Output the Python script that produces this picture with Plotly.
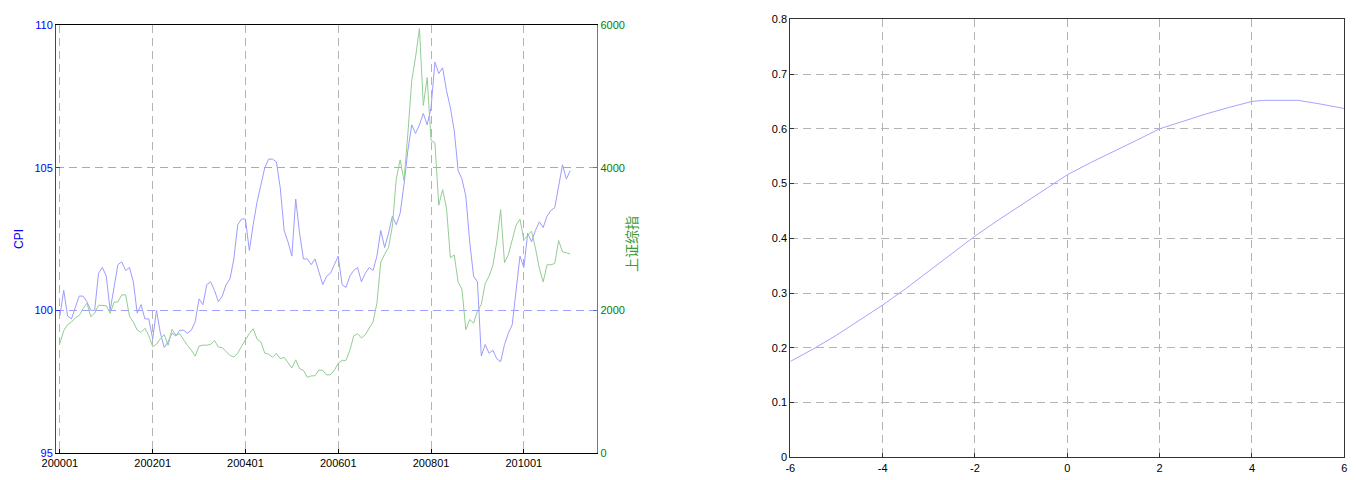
import plotly.graph_objects as go

# ---------------- data ----------------
start_year, start_month = 2000, 1
cpi = [
    99.8, 100.7, 99.8, 99.7, 100.1, 100.5, 100.5, 100.3, 100.0, 100.0, 101.3, 101.5,
    101.2, 100.0, 100.8, 101.6, 101.7, 101.4, 101.5, 101.0, 99.9, 100.2, 99.7, 99.7,
    99.0, 100.0, 99.2, 98.7, 98.9, 99.2, 99.1, 99.3, 99.3, 99.2, 99.3, 99.6,
    100.4, 100.2, 100.9, 101.0, 100.7, 100.3, 100.5, 100.9, 101.1, 101.8, 103.0, 103.2,
    103.2, 102.1, 103.0, 103.8, 104.4, 105.0, 105.3, 105.3, 105.2, 104.3, 102.8, 102.4,
    101.9, 103.9, 102.7, 101.8, 101.8, 101.6, 101.8, 101.3, 100.9, 101.2, 101.3, 101.6,
    101.9, 100.9, 100.8, 101.2, 101.4, 101.5, 101.0, 101.3, 101.5, 101.4, 101.9, 102.8,
    102.2, 102.7, 103.3, 103.0, 103.4, 104.4, 105.6, 106.5, 106.2, 106.5, 106.9, 106.5,
    107.1, 108.7, 108.3, 108.5, 107.7, 107.1, 106.3, 104.9, 104.6, 104.0, 102.4, 101.2,
    101.0, 98.4, 98.8, 98.5, 98.6, 98.3, 98.2, 98.8, 99.2, 99.5, 100.6, 101.9,
    101.5, 102.7, 102.4, 102.8, 103.1, 102.9, 103.3, 103.5, 103.6, 104.4, 105.1, 104.6,
    104.9,
]
sh_index = [
    1535, 1715, 1800, 1836, 1895, 1928, 2023, 2101, 1910, 1961, 2071, 2073,
    2066, 1959, 2113, 2119, 2214, 2218, 1920, 1834, 1724, 1690, 1748, 1646,
    1491, 1525, 1604, 1659, 1511, 1733, 1652, 1671, 1581, 1507, 1442, 1358,
    1500, 1512, 1511, 1522, 1576, 1486, 1477, 1422, 1367, 1348, 1397, 1497,
    1591, 1675, 1742, 1596, 1556, 1399, 1386, 1342, 1397, 1321, 1341, 1267,
    1192, 1306, 1181, 1159, 1061, 1081, 1083, 1163, 1156, 1093, 1099, 1161,
    1258, 1299, 1298, 1440, 1641, 1672, 1613, 1659, 1752, 1838, 2099, 2675,
    2786, 2881, 3184, 3841, 4110, 3821, 4471, 5219, 5552, 5955, 4872, 5262,
    4383, 4349, 3473, 3693, 3433, 2736, 2776, 2397, 2294, 1729, 1871, 1821,
    1991, 2083, 2373, 2478, 2633, 2959, 3412, 2668, 2779, 2996, 3195, 3277,
    2989, 3052, 3109, 2871, 2592, 2398, 2638, 2639, 2656, 2979, 2820, 2808,
    2791,
]
months = []
for k in range(len(cpi)):
    y = start_year + (start_month - 1 + k) // 12
    m = (start_month - 1 + k) % 12 + 1
    months.append(f"{y}{m:02d}")
tick_every = 24

curve_x = [-6, -5.5, -5, -4.5, -4, -3.5, -3, -2.5, -2, -1.5, -1, -0.5, 0,
           0.5, 1, 1.5, 2, 2.5, 3, 3.5, 4, 4.25, 5, 5.5, 6]
curve_y = [0.175, 0.198, 0.223, 0.250, 0.278, 0.308, 0.340, 0.372, 0.404, 0.433,
           0.461, 0.489, 0.516, 0.538, 0.558, 0.579, 0.600, 0.614, 0.627, 0.639,
           0.650, 0.652, 0.652, 0.645, 0.637]
right_xticks = [-6, -4, -2, 0, 2, 4, 6]
right_yticks = [0, 0.1, 0.2, 0.3, 0.4, 0.5, 0.6, 0.7, 0.8]

# ---------------- figure ----------------
xs = list(range(1, len(cpi) + 1))
tickpos = xs[::tick_every]
ticklab = months[::tick_every]

FONT = "Liberation Sans, Arial, Helvetica, sans-serif"
PAGE_OFF = 8                      # default body margin of the html page
W, H = 1356 - 2 * PAGE_OFF, 480 - 2 * PAGE_OFF

def px(v):
    return v - PAGE_OFF

# panel geometry (window pixels)
L_x0, L_x1, L_y0, L_y1 = 56, 597.3, 25, 453
R_x0, R_x1, R_y0, R_y1 = 790.3, 1344.3, 19.3, 457.3

fig = go.Figure()
fig.add_trace(go.Scatter(x=xs, y=cpi, mode="lines", name="CPI",
                         line=dict(color="#9c9cff", width=1), xaxis="x", yaxis="y"))
fig.add_trace(go.Scatter(x=xs, y=sh_index, mode="lines", name="上证综指",
                         line=dict(color="#94cc94", width=1), xaxis="x", yaxis="y2"))
fig.add_trace(go.Scatter(x=curve_x, y=curve_y, mode="lines", name="curve",
                         line=dict(color="#a4a4ff", width=1), xaxis="x2", yaxis="y3"))

fig.update_layout(
    width=W, height=H,
    margin=dict(l=0, r=0, t=0, b=0, autoexpand=False),
    paper_bgcolor="white", plot_bgcolor="white",
    showlegend=False,
    font=dict(family=FONT, size=11, color="black"),
    xaxis=dict(
        domain=[px(L_x0) / W, px(L_x1) / W], anchor="y", automargin=False,
        range=[0, 140], tickmode="array", tickvals=tickpos, ticktext=ticklab,
        showgrid=True, gridcolor="#b4b4b4", griddash="8px,5px", gridwidth=1,
        showline=True, linecolor="black", linewidth=1, mirror=True,
        ticks="inside", ticklen=4, tickcolor="black",
        tickfont=dict(family=FONT, size=11, color="black"), zeroline=False,
    ),
    yaxis=dict(
        domain=[1 - px(L_y1) / H, 1 - px(L_y0) / H], anchor="x", automargin=False,
        range=[95, 110], tickmode="linear", tick0=95, dtick=5,
        showgrid=True, gridcolor="#a0a0ff", griddash="8px,5px", gridwidth=1,
        showline=True, linecolor="#3030ff", linewidth=1,
        ticks="inside", ticklen=4, tickcolor="#3030ff",
        tickfont=dict(family=FONT, size=11, color="#0000ff"), zeroline=False,
    ),
    yaxis2=dict(
        overlaying="y", side="right", anchor="x", automargin=False,
        range=[0, 6000], tickmode="linear", tick0=0, dtick=2000,
        showgrid=False, showline=True, linecolor="#5a78c0", linewidth=1,
        ticks="inside", ticklen=4, tickcolor="#5a78c0",
        tickfont=dict(family=FONT, size=11, color="#008000"), zeroline=False,
    ),
    xaxis2=dict(
        domain=[px(R_x0) / W, px(R_x1) / W], anchor="y3", automargin=False,
        range=[-6, 6], tickmode="array", tickvals=right_xticks,
        ticktext=[f"{v:g}" for v in right_xticks],
        showgrid=True, gridcolor="#b4b4b4", griddash="8px,5px", gridwidth=1,
        showline=True, linecolor="#333333", linewidth=1, mirror=True,
        ticks="inside", ticklen=4, tickcolor="#333333",
        tickfont=dict(family=FONT, size=11, color="black"), zeroline=False,
    ),
    yaxis3=dict(
        domain=[1 - px(R_y1) / H, 1 - px(R_y0) / H], anchor="x2", automargin=False,
        range=[0, 0.8], tickmode="array", tickvals=right_yticks,
        ticktext=[f"{v:g}" for v in right_yticks],
        showgrid=True, gridcolor="#b4b4b4", griddash="8px,5px", gridwidth=1,
        showline=True, linecolor="#333333", linewidth=1, mirror=True,
        ticks="inside", ticklen=4, tickcolor="#333333",
        tickfont=dict(family=FONT, size=11, color="black"), zeroline=False,
    ),
    annotations=[
        dict(text="CPI", x=px(19) / W, y=1 - px(239) / H, xref="paper", yref="paper",
             showarrow=False, textangle=-90, xanchor="center", yanchor="middle",
             font=dict(family=FONT, size=12, color="#0000ff")),
        dict(text="上证综指", x=px(631) / W, y=1 - px(244) / H, xref="paper", yref="paper",
             showarrow=False, textangle=-90, xanchor="center", yanchor="middle",
             font=dict(family="Noto Sans CJK SC, sans-serif", size=14, color="#3a9a3a")),
    ],
)

fig.write_html("out.html")
